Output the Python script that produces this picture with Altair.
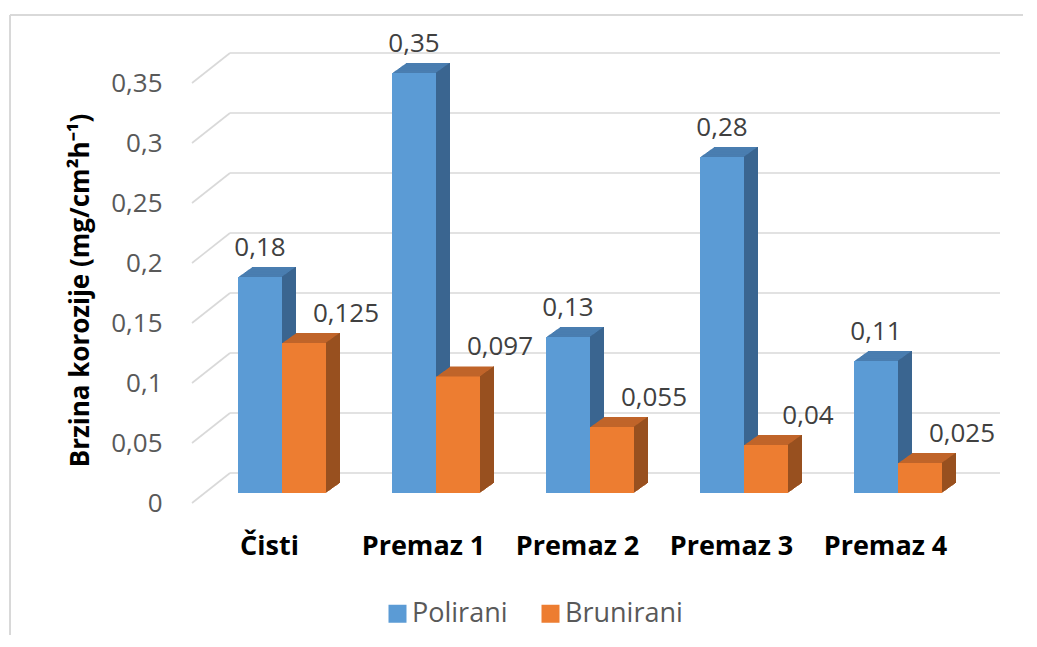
import json
import altair as alt
import pandas as pd

# ---- data ----
categories = ["Čisti", "Premaz 1", "Premaz 2", "Premaz 3", "Premaz 4"]
polirani = [0.18, 0.35, 0.13, 0.28, 0.11]
brunirani = [0.125, 0.097, 0.055, 0.04, 0.025]
series_names = ["Polirani", "Brunirani"]
y_ticks = [0, 0.05, 0.1, 0.15, 0.2, 0.25, 0.3, 0.35]

# ---- styles ----
front_colors = ["#5B9BD5", "#ED7D31"]
top_colors = ["#4A7EB0", "#C0652A"]
side_colors = ["#3A6590", "#98501F"]
GRID = "#D9D9D9"
FONT = "Open Sans"

BAR_W = 1 / 3.5  # gap width 75 %
rows = []
for i, c in enumerate(categories):
    for j, (s, vals) in enumerate(zip(series_names, [polirani, brunirani])):
        v = vals[i]
        x0 = i - BAR_W + j * BAR_W
        rows.append(dict(cat=c, series=s, value=v, x0=x0, x1=x0 + BAR_W,
                         xc=x0 + BAR_W / 2, label=str(v).replace(".", ",")))
df = pd.DataFrame(rows)
grid_df = pd.DataFrame({"t": y_ticks})

W, H = 770, 420
PAD = {"left": 184, "top": 75, "right": 61, "bottom": 132}

xs = alt.Scale(domain=[-0.5, 4.5], nice=False, zero=False)
ys = alt.Scale(domain=[0, 0.35], nice=False, zero=True)

x_label_expr = json.dumps(categories, ensure_ascii=False) + "[datum.value]"
X_AXIS = alt.Axis(
    values=[0, 1, 2, 3, 4], labelExpr=x_label_expr, grid=False, domain=False,
    ticks=False, tickSize=0, labelPadding=51, labelBaseline="alphabetic",
    labelFont=FONT, labelFontSize=27, labelFontWeight="bold", labelColor="#000000",
    labelFlush=False, labelOverlap=False, labelLimit=400, title=None)
Y_AXIS = alt.Axis(
    values=y_ticks, labelExpr="replace(toString(datum.value), '.', ',')",
    grid=False, domain=False, ticks=False, tickSize=0, labelPadding=30,
    labelFont=FONT, labelFontSize=26, labelColor="#595959", labelOverlap=False,
    title="Brzina korozije (mg/cm²h⁻¹)", titleFont=FONT, titleFontSize=26,
    titleFontWeight="bold", titleColor="#000000", titleX=-112, titleY=207,
    titleAngle=270, titleAlign="center", titleBaseline="middle", titleLimit=600)

# 3D projection offsets (pixels)
FX, FY = 13, -10        # front face relative to front floor edge
DX, DY = 14, -10        # bar depth
WX, WY = 38, -30        # back wall relative to front floor edge

layers = []

# back-wall gridlines
layers.append(
    alt.Chart(grid_df).mark_rule(color=GRID, strokeWidth=1.6, xOffset=WX, x2Offset=WX,
                                 yOffset=WY, y2Offset=WY)
    .encode(x=alt.X(datum=-0.5, scale=xs, axis=X_AXIS), x2=alt.datum(4.5),
            y=alt.Y("t:Q", scale=ys, axis=Y_AXIS))
)
# side-wall (floor) diagonals
layers.append(
    alt.Chart(grid_df).mark_rule(color=GRID, strokeWidth=1.6, xOffset=0, x2Offset=WX,
                                 yOffset=0, y2Offset=WY)
    .encode(x=alt.X(datum=-0.5, scale=xs, axis=X_AXIS), x2=alt.datum(-0.5),
            y=alt.Y("t:Q", scale=ys, axis=Y_AXIS), y2="t:Q")
)
# chart frame (top and left edge)
layers.append(
    alt.Chart(grid_df).mark_rule(color=GRID, strokeWidth=1.6)
    .encode(x=alt.value(-182), x2=alt.value(W + PAD["right"]), y=alt.value(-68))
)
layers.append(
    alt.Chart(grid_df).mark_rule(color=GRID, strokeWidth=1.6)
    .encode(x=alt.value(-182), y=alt.value(-68), y2=alt.value(H + PAD["bottom"]))
)

# 3D extrusions
for j, s in enumerate(series_names):
    base = alt.Chart(df).transform_filter(alt.datum.series == s)
    for k in range(DX, 0, -1):
        dy = FY + k * DY / DX
        layers.append(
            base.mark_bar(color=top_colors[j], xOffset=FX + k, x2Offset=FX + k,
                          yOffset=dy, y2Offset=dy)
            .encode(x=alt.X("x0:Q", scale=xs, axis=X_AXIS), x2="x1:Q",
                    y=alt.Y("value:Q", scale=ys, axis=Y_AXIS), y2=alt.datum(0))
        )
    for k in range(1, DX + 1):
        dy = FY + k * DY / DX
        layers.append(
            base.mark_bar(color=side_colors[j], xOffset=FX + k - 1, x2Offset=FX + k,
                          yOffset=dy, y2Offset=dy)
            .encode(x=alt.X("x1:Q", scale=xs, axis=X_AXIS), x2="x1:Q",
                    y=alt.Y("value:Q", scale=ys, axis=Y_AXIS), y2=alt.datum(0))
        )

# front faces (carry legend)
front = alt.Chart(df).mark_bar(xOffset=FX, x2Offset=FX, yOffset=FY, y2Offset=FY).encode(
    x=alt.X("x0:Q", scale=xs, axis=X_AXIS),
    x2="x1:Q",
    y=alt.Y("value:Q", scale=ys, axis=Y_AXIS),
    y2=alt.datum(0),
    color=alt.Color("series:N", scale=alt.Scale(domain=series_names, range=front_colors),
                    legend=alt.Legend(orient="none", legendX=192, legendY=517,
                                      direction="horizontal", title=None,
                                      symbolType="square", symbolSize=324,
                                      symbolStrokeWidth=0, labelFont=FONT,
                                      labelFontSize=27, labelColor="#595959",
                                      labelLimit=400, labelOffset=1,
                                      columnPadding=29, padding=0)),
)
layers.append(front)

# value labels
label_dx = [FX, FX + 42]
for j, s in enumerate(series_names):
    layers.append(
        alt.Chart(df).transform_filter(alt.datum.series == s)
        .mark_text(font=FONT, fontSize=26, color="#404040", align="center",
                   baseline="alphabetic", dx=label_dx[j], dy=FY - 21.5)
        .encode(x=alt.X("xc:Q", scale=xs, axis=X_AXIS),
                y=alt.Y("value:Q", scale=ys, axis=Y_AXIS), text="label:N")
    )

chart = alt.layer(*layers).properties(
    width=W, height=H, padding=PAD,
    autosize=alt.AutoSizeParams(type="none"),
    background="white",
).configure_view(stroke=None)

chart.save("out.html", embed_options={"renderer": "svg", "actions": False})
